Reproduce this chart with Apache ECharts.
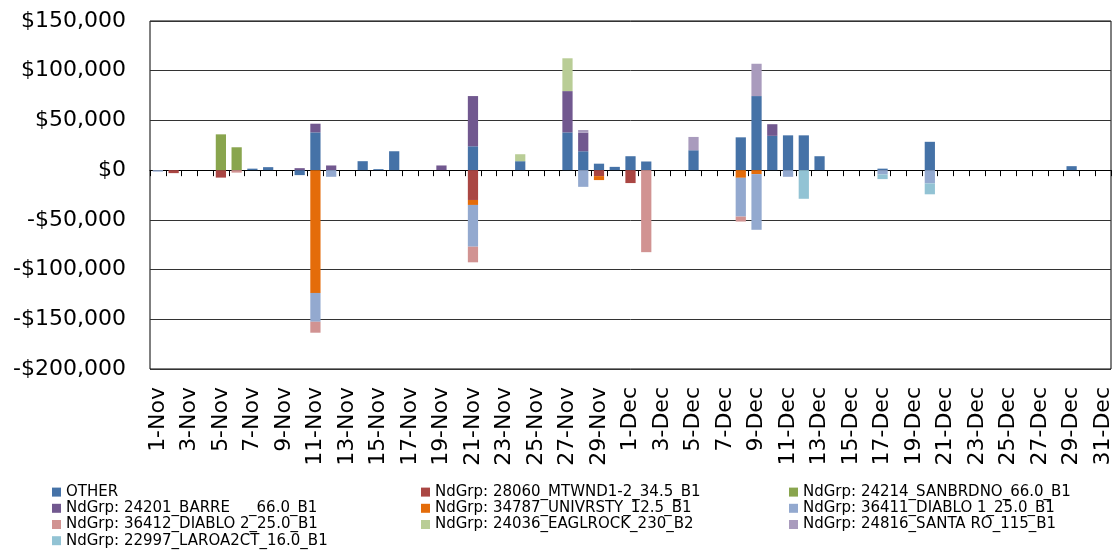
<!DOCTYPE html>
<html>
<head>
<meta charset="utf-8">
<script src="https://cdn.jsdelivr.net/npm/echarts@6/dist/echarts.min.js"></script>
<style>
html,body{margin:0;padding:0;background:#fff;}
#chart{width:1118px;height:550px;}
</style>
</head>
<body>
<div id="chart"></div>
<script>
// Categories: 1-Nov .. 31-Dec
var categories = [
 "1-Nov","2-Nov","3-Nov","4-Nov","5-Nov","6-Nov","7-Nov","8-Nov","9-Nov","10-Nov",
 "11-Nov","12-Nov","13-Nov","14-Nov","15-Nov","16-Nov","17-Nov","18-Nov","19-Nov","20-Nov",
 "21-Nov","22-Nov","23-Nov","24-Nov","25-Nov","26-Nov","27-Nov","28-Nov","29-Nov","30-Nov",
 "1-Dec","2-Dec","3-Dec","4-Dec","5-Dec","6-Dec","7-Dec","8-Dec","9-Dec","10-Dec",
 "11-Dec","12-Dec","13-Dec","14-Dec","15-Dec","16-Dec","17-Dec","18-Dec","19-Dec","20-Dec",
 "21-Dec","22-Dec","23-Dec","24-Dec","25-Dec","26-Dec","27-Dec","28-Dec","29-Dec","30-Dec",
 "31-Dec"
];

var yTicks = [-200000,-150000,-100000,-50000,0,50000,100000,150000];

var seriesNames = [
 "OTHER",
 "NdGrp: 28060_MTWND1-2_34.5_B1",
 "NdGrp: 24214_SANBRDNO_66.0_B1",
 "NdGrp: 24201_BARRE    _66.0_B1",
 "NdGrp: 34787_UNIVRSTY_12.5_B1",
 "NdGrp: 36411_DIABLO 1_25.0_B1",
 "NdGrp: 36412_DIABLO 2_25.0_B1",
 "NdGrp: 24036_EAGLROCK_230_B2",
 "NdGrp: 24816_SANTA RO_115_B1",
 "NdGrp: 22997_LAROA2CT_16.0_B1"
];

var seriesColors = ["#4572A7","#AA4643","#89A54E","#71588F","#E46C0A","#93A9CF","#D19392","#B9CD96","#A99BBD","#92C3D4"];

//              1-Nov .............................................................. 31-Dec
var other    = [0,0,0,0,0,0,1500,3000,0,-5000, 38000,0,0,9000,1000,19000,0,0,0,0, 24000,0,0,9000,0,0,38000,19000,6500,3300,
                14000,8700,0,0,20000,0,0,33000,74500,34500, 35000,35000,14000,0,0,0,1500,0,0,28500, 0,0,0,0,0,0,0,0,4000,0, 0];
var mtwnd    = [0,-3000,0,0,-7500,0,0,0,0,0, 0,0,0,0,0,0,0,0,0,0, -30000,0,0,0,0,0,0,0,-6000,0,
                -13000,0,0,0,0,0,0,0,0,0, 0,0,0,0,0,0,0,0,0,0, 0,0,0,0,0,0,0,0,0,0, 0];
var sanbrdno = [0,0,0,0,36000,23000,0,0,0,0, 0,0,0,0,0,0,0,0,0,0, 0,0,0,0,0,0,0,0,0,0,
                0,0,0,0,0,0,0,0,0,0, 0,0,0,0,0,0,0,0,0,0, 0,0,0,0,0,0,0,0,0,0, 0];
var barre    = [0,0,0,0,0,0,0,0,0,2000, 8700,4700,0,0,0,0,0,0,4700,0, 50500,0,0,0,0,0,41500,18700,0,0,
                0,0,0,0,0,0,0,0,0,11700, 0,0,0,0,0,0,0,0,0,0, 0,0,0,0,0,0,0,0,0,0, 0];
var univrsty = [0,0,0,0,0,0,0,0,0,0, -123500,0,0,0,0,0,0,0,0,0, -5000,0,0,0,0,0,0,0,-4000,0,
                0,0,0,0,0,0,0,-7700,-4000,0, 0,0,0,0,0,0,0,0,0,0, 0,0,0,0,0,0,0,0,0,0, 0];
var diablo1  = [-1500,0,0,0,0,0,0,0,0,0, -29000,-6700,0,0,0,0,0,0,0,0, -42000,0,0,0,0,0,0,-16800,0,0,
                0,0,0,0,0,0,0,-39000,-56000,0, -6700,0,0,0,0,0,-4300,0,0,-13300, 0,0,0,0,0,0,0,0,0,0, 0];
var diablo2  = [0,0,0,0,0,-2500,0,0,0,0, -11000,0,0,0,0,0,0,0,0,0, -15700,0,0,0,0,0,0,0,0,0,
                0,-82500,0,0,0,0,0,-5000,0,0, 0,0,0,0,0,0,0,0,0,0, 0,0,0,0,0,0,0,0,0,0, 0];
var eaglrock = [0,0,0,0,0,0,0,0,0,0, 0,0,0,0,0,0,0,0,0,0, 0,0,0,7000,0,0,33000,0,0,0,
                0,0,0,0,0,0,0,0,0,0, 0,0,0,0,0,0,0,0,0,0, 0,0,0,0,0,0,0,0,0,0, 0];
var santaro  = [0,0,0,0,0,0,0,0,0,0, 0,0,0,0,0,0,0,0,0,0, 0,0,0,0,0,0,0,2700,0,0,
                0,0,0,0,13400,0,0,0,32500,0, 0,0,0,0,0,0,0,0,0,0, 0,0,0,0,0,0,0,0,0,0, 0];
var laroa2ct = [0,0,0,0,0,0,0,0,0,0, 0,0,0,0,0,0,0,0,0,0, 0,0,0,0,0,0,0,0,0,0,
                0,0,0,0,0,0,0,0,0,0, 0,-28800,0,0,0,0,-4700,0,0,-11000, 0,0,0,0,0,0,0,0,0,0, 0];

var seriesValues = [other, mtwnd, sanbrdno, barre, univrsty, diablo1, diablo2, eaglrock, santaro, laroa2ct];

var FONT = "DejaVu Sans";

function money(v){
  var s = Math.abs(v).toString().replace(/\B(?=(\d{3})+(?!\d))/g, ",");
  return (v < 0 ? "-$" : "$") + s;
}

var series = seriesNames.map(function(name, i){
  return {
    name: name,
    type: 'bar',
    stack: 'total',
    xAxisIndex: 0,
    yAxisIndex: 0,
    barWidth: '65%',
    itemStyle: { color: seriesColors[i] },
    data: seriesValues[i].map(function(v){ return v === 0 ? null : v; })
  };
});

var legendCols = [
  {left: 52,  names: [seriesNames[0], seriesNames[3], seriesNames[6], seriesNames[9]]},
  {left: 421, names: [seriesNames[1], seriesNames[4], seriesNames[7]]},
  {left: 789, names: [seriesNames[2], seriesNames[5], seriesNames[8]]}
];

var legends = legendCols.map(function(c){
  return {
    orient: 'vertical',
    left: c.left,
    top: 484,
    padding: 0,
    itemGap: 0,
    itemWidth: 9,
    itemHeight: 9,
    icon: 'rect',
    selectedMode: false,
    data: c.names,
    textStyle: { fontFamily: FONT, fontSize: 15, color: '#000', lineHeight: 16.2 }
  };
});

var chart = echarts.init(document.getElementById('chart'), null, {renderer: 'canvas'});
chart.setOption({
  animation: false,
  backgroundColor: '#fff',
  grid: { left: 150, right: 7, top: 21, bottom: 181, show: true, borderColor: '#000', borderWidth: 1, backgroundColor: 'transparent' },
  legend: legends,
  xAxis: [
    {
      type: 'category',
      data: categories,
      position: 'bottom',
      boundaryGap: true,
      axisLine: { show: true, onZero: true, lineStyle: { color: '#000', width: 1 } },
      axisTick: { show: true, interval: 0, length: 6, lineStyle: { color: '#000' } },
      axisLabel: { show: false },
      splitLine: { show: false }
    },
    {
      type: 'category',
      data: categories,
      position: 'bottom',
      boundaryGap: true,
      axisLine: { show: false, onZero: false },
      axisTick: { show: false },
      axisLabel: { show: true, interval: 1, rotate: 90, margin: 18, fontFamily: FONT, fontSize: 22, color: '#000' },
      splitLine: { show: false }
    }
  ],
  yAxis: {
    type: 'value',
    min: yTicks[0],
    max: yTicks[yTicks.length - 1],
    interval: 50000,
    axisLine: { show: false },
    axisTick: { show: false },
    axisLabel: { margin: 24, fontFamily: FONT, fontSize: 22, color: '#000', formatter: money },
    splitLine: { show: true, lineStyle: { color: '#333', width: 1 } }
  },
  series: series
});
</script>
</body>
</html>
